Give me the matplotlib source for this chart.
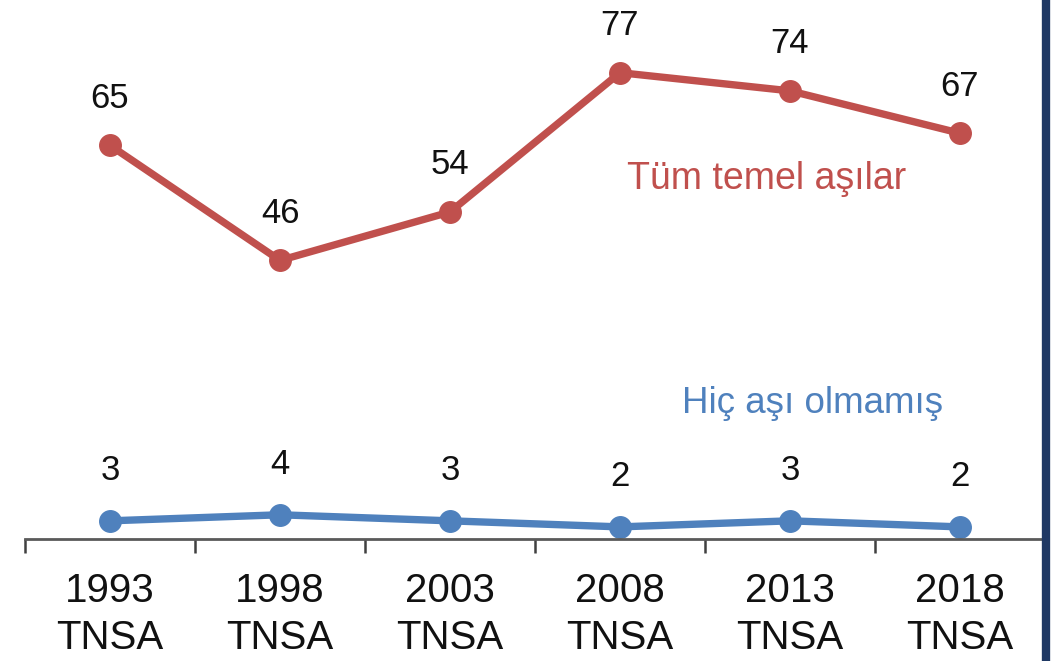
import numpy as np
import matplotlib
matplotlib.use('Agg')
import matplotlib.pyplot as plt
from matplotlib.lines import Line2D

# Data
years = ['1993', '1998', '2003', '2008', '2013', '2018']
survey = 'TNSA'
all_basic = [65, 46, 54, 77, 74, 67]      # Tüm temel aşılar
no_vaccine = [3, 4, 3, 2, 3, 2]           # Hiç aşı olmamış

red = '#C0504D'
blue = '#4F81BD'

plt.rcParams['font.family'] = ['Liberation Sans', 'DejaVu Sans']

fig = plt.figure(figsize=(10.58, 6.61), dpi=100)
ax = fig.add_axes([25 / 1058, (661 - 539) / 661, 1020 / 1058, 539 / 661])

x = np.arange(len(years))
ax.plot(x, all_basic, color=red, lw=5.3, marker='o', ms=15.5, solid_capstyle='round')
ax.plot(x, no_vaccine, color=blue, lw=5.3, marker='o', ms=15.5, solid_capstyle='round')

for xi, v in zip(x, all_basic):
    ax.annotate(str(v), (xi, v), xytext=(0, 34), textcoords='offset points',
                ha='center', va='center', fontsize=25, color='#111111')
for xi, v in zip(x, no_vaccine):
    ax.annotate(str(v), (xi, v), xytext=(0, 36), textcoords='offset points',
                ha='center', va='center', fontsize=25, color='#111111')

ax.text(3.86, 59.5, 'Tüm temel aşılar', color=red, fontsize=27, ha='center', va='center')
ax.text(4.13, 22.3, 'Hiç aşı olmamış', color=blue, fontsize=26.5, ha='center', va='center')

ax.set_xlim(-0.5, 5.5)
ax.set_ylim(0, 89)
ax.set_xticks(x)
ax.set_xticklabels([f'{y}\n{survey}' for y in years], fontsize=29, linespacing=1.3,
                   color='#111111')
ax.set_xticks(np.arange(-0.5, 5.0, 1.0), minor=True)
ax.tick_params(axis='x', which='major', length=0, pad=24)
ax.tick_params(axis='x', which='minor', length=10, width=1.8, color='#404040')
ax.set_yticks([])
for s in ['top', 'right', 'left']:
    ax.spines[s].set_visible(False)
ax.spines['bottom'].set_color('#5a5a5a')
ax.spines['bottom'].set_linewidth(2)
ax.patch.set_alpha(0)

# dark blue frame edge on the right
fig.add_artist(Line2D([1046 / 1058, 1046 / 1058], [0, 1], color='#1F3864', lw=6,
                      transform=fig.transFigure))

fig.savefig('out.png', dpi=100)
